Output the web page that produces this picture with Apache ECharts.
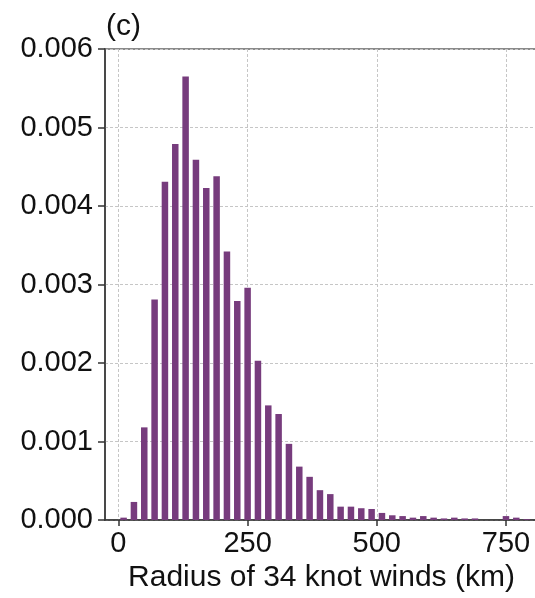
<!DOCTYPE html>
<html>
<head>
<meta charset="utf-8">
<script src="https://cdn.jsdelivr.net/npm/echarts@6/dist/echarts.min.js"></script>
<style>
html,body{margin:0;padding:0;background:#fff;}
#chart{width:535px;height:598px;}
</style>
</head>
<body>
<div id="chart"></div>
<script>
// 直方图：20 km 一个区间，数值为概率密度
var binCenters = [10,30,50,70,90,110,130,150,170,190,210,230,250,270,290,310,330,350,370,390,
	410,430,450,470,490,510,530,550,570,590,610,630,650,670,690,710,730,750,770,790];
var density = [0.00003,0.00023,0.00118,0.00281,0.00431,0.00479,0.00565,0.00459,0.00423,0.00438,
	0.00342,0.00279,0.00296,0.00203,0.00146,0.00135,0.00097,0.00068,0.00055,0.00038,
	0.00033,0.00017,0.00017,0.00015,0.00014,0.00009,0.00006,0.00005,0.00003,0.00005,
	0.00003,0.00002,0.00003,0.00002,0.00002,0,0,0.00005,0.00003,0.00001];
var xTicks = [0,250,500,750];
var xLabel = "Radius of 34 knot winds (km)";
var panelTag = "(c)";

function myLoadHist(domId){
	var chartsDom = document.getElementById(domId);
	var myCharts = echarts.init(chartsDom);

	var seriesData = [];
	for(var i=0;i<binCenters.length;i++){
		seriesData.push([binCenters[i], density[i]]);
	}
	var font = "'Liberation Sans', Arial, sans-serif";

	var option = {
		animation: false,
		title: {
			text: panelTag,
			left: 106, top: 12,
			padding: 0,
			textStyle: { fontFamily: font, fontSize: 30, fontWeight: 'normal', color: '#111' }
		},
		grid: {
			left: 105, right: -3, top: 49, bottom: 78,
			outerBoundsMode: 'none',
			containLabel: false,
			show: true, borderColor: '#8a8a8a', borderWidth: 2
		},
		xAxis: {
			type: 'value',
			min: -26, max: 812,
			interval: 250,
			name: xLabel,
			nameLocation: 'middle',
			nameGap: 42,
			nameTextStyle: { fontFamily: font, fontSize: 30, color: '#111' },
			axisLine: { show: true, onZero: false, lineStyle: { color: '#333', width: 1.5 } },
			axisTick: { show: true, length: 6, lineStyle: { color: '#333', width: 1.5 },
				customValues: xTicks },
			axisLabel: { fontFamily: font, fontSize: 29, color: '#111', margin: 9,
				customValues: xTicks },
			splitLine: { show: true, lineStyle: { color: '#c6c6c6', type: [3,2], width: 1 } }
		},
		yAxis: {
			type: 'value',
			min: 0, max: 0.006, interval: 0.001,
			axisLine: { show: true, onZero: false, lineStyle: { color: '#333', width: 1.5 } },
			axisTick: { show: true, length: 7, lineStyle: { color: '#333', width: 1.5 } },
			axisLabel: { fontFamily: font, fontSize: 29, color: '#111', margin: 12,
				formatter: function(v){ return v.toFixed(3); } },
			splitLine: { show: true, lineStyle: { color: '#c6c6c6', type: [3,2], width: 1 } }
		},
		series: [{
			type: 'bar',
			data: seriesData,
			barWidth: 6.5,
			itemStyle: { color: '#773c7d' }
		}]
	};
	myCharts.setOption(option);
}

myLoadHist("chart");
</script>
</body>
</html>
